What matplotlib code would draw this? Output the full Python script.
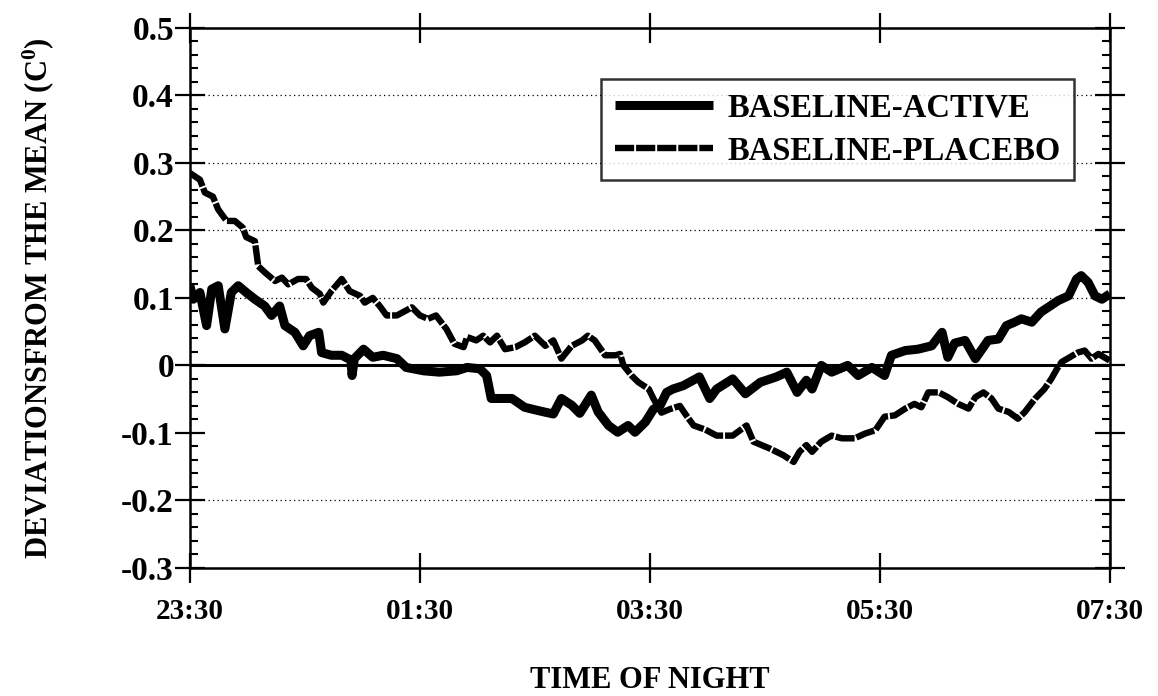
import matplotlib
matplotlib.use("Agg")
import matplotlib.pyplot as plt
from matplotlib.ticker import MultipleLocator, FixedLocator

plt.rcParams['font.family'] = ['Liberation Serif', 'DejaVu Serif']
plt.rcParams['font.weight'] = 'bold'
plt.rcParams['mathtext.fontset'] = 'custom'
plt.rcParams['mathtext.rm'] = 'Liberation Serif:bold'
plt.rcParams['mathtext.it'] = 'Liberation Serif:bold'

# hours elapsed since 23:30
active_t = [0.0, 0.03, 0.087, 0.145, 0.19, 0.246, 0.304, 0.36, 0.42, 0.49, 0.565,
            0.65, 0.71, 0.78, 0.826, 0.913, 0.985, 1.04, 1.12, 1.145, 1.23, 1.32,
            1.40, 1.41, 1.43, 1.51, 1.59, 1.68, 1.8, 1.88, 2.03, 2.17, 2.32, 2.41,
            2.52, 2.58, 2.62, 2.67, 2.8, 2.91, 3.03, 3.16, 3.23, 3.32, 3.39, 3.49,
            3.55, 3.64, 3.72, 3.81, 3.87, 3.96, 4.03, 4.09, 4.145, 4.2, 4.29, 4.43,
            4.52, 4.58, 4.72, 4.83, 4.96, 5.1, 5.19, 5.28, 5.36, 5.41, 5.49, 5.58,
            5.72, 5.81, 5.93, 6.04, 6.1, 6.22, 6.33, 6.45, 6.54, 6.59, 6.65, 6.74,
            6.83, 6.94, 7.03, 7.1, 7.17, 7.23, 7.32, 7.4, 7.48, 7.55, 7.64, 7.71,
            7.75, 7.81, 7.87, 7.93, 8.0]
active_v = [0.118, 0.098, 0.108, 0.059, 0.113, 0.118, 0.054, 0.108, 0.118, 0.108, 0.098,
            0.088, 0.074, 0.088, 0.059, 0.049, 0.029, 0.044, 0.049, 0.019, 0.015, 0.015,
            0.008, -0.015, 0.010, 0.024, 0.012, 0.015, 0.01, -0.003, -0.008, -0.01, -0.008, -0.003,
            -0.005, -0.015, -0.049, -0.049, -0.049, -0.062, -0.067, -0.072, -0.049, -0.059, -0.071, -0.044,
            -0.069, -0.089, -0.099, -0.089, -0.099, -0.084, -0.065, -0.059, -0.04, -0.035, -0.03, -0.017,
            -0.049, -0.035, -0.02, -0.042, -0.025, -0.017, -0.01, -0.04, -0.022, -0.035, 0.0, -0.01,
            0.0, -0.015, -0.003, -0.015, 0.015, 0.022, 0.024, 0.029, 0.049, 0.012, 0.033, 0.037,
            0.01, 0.037, 0.039, 0.059, 0.064, 0.069, 0.064, 0.079, 0.088, 0.096, 0.103, 0.128,
            0.133, 0.123, 0.103, 0.098, 0.106]

placebo_t = [0.0, 0.087, 0.13, 0.2, 0.246, 0.319, 0.39, 0.46, 0.49, 0.565, 0.594, 0.65,
             0.74, 0.8, 0.855, 0.94, 1.01, 1.06, 1.13, 1.16, 1.23, 1.32, 1.39, 1.48, 1.52,
             1.59, 1.65, 1.71, 1.8, 1.93, 2.0, 2.07, 2.14, 2.23, 2.3, 2.38, 2.41, 2.49,
             2.55, 2.61, 2.67, 2.74, 2.83, 2.91, 3.0, 3.09, 3.16, 3.23, 3.32, 3.41, 3.46,
             3.52, 3.61, 3.7, 3.74, 3.77, 3.84, 3.9, 3.99, 4.03, 4.1, 4.17, 4.26, 4.32,
             4.38, 4.48, 4.58, 4.72, 4.84, 4.9, 5.04, 5.16, 5.25, 5.3, 5.36, 5.41, 5.49,
             5.58, 5.67, 5.78, 5.87, 5.96, 6.04, 6.13, 6.22, 6.3, 6.36, 6.42, 6.51, 6.59,
             6.68, 6.77, 6.83, 6.9, 6.97, 7.03, 7.12, 7.2, 7.26, 7.35, 7.43, 7.49, 7.54,
             7.58, 7.65, 7.72, 7.78, 7.84, 7.9, 8.0]
placebo_v = [0.285, 0.275, 0.256, 0.25, 0.231, 0.214, 0.214, 0.204, 0.19, 0.184, 0.147, 0.138,
             0.125, 0.13, 0.12, 0.128, 0.128, 0.115, 0.106, 0.093, 0.11, 0.128, 0.11, 0.103, 0.093,
             0.1, 0.088, 0.074, 0.074, 0.086, 0.074, 0.069, 0.074, 0.054, 0.032, 0.027, 0.042, 0.037,
             0.044, 0.034, 0.044, 0.024, 0.027, 0.034, 0.044, 0.029, 0.037, 0.01, 0.029, 0.037, 0.044,
             0.037, 0.015, 0.015, 0.017, 0.0, -0.015, -0.025, -0.035, -0.049, -0.07, -0.065, -0.06, -0.075,
             -0.089, -0.095, -0.104, -0.104, -0.089, -0.113, -0.123, -0.133, -0.143, -0.128, -0.118, -0.128, -0.113,
             -0.104, -0.108, -0.108, -0.101, -0.096, -0.076, -0.074, -0.064, -0.057, -0.062, -0.04, -0.04, -0.047,
             -0.057, -0.064, -0.047, -0.04, -0.049, -0.064, -0.069, -0.079, -0.069, -0.049, -0.035, -0.02, -0.005,
             0.005, 0.012, 0.019, 0.022, 0.01, 0.017, 0.007]

x_tick_pos = [0, 2, 4, 6, 8]
x_tick_labels = ['23:30', '01:30', '03:30', '05:30', '07:30']
y_ticks = [0.5, 0.4, 0.3, 0.2, 0.1, 0, -0.1, -0.2, -0.3]
y_tick_labels = ['0.5', '0.4', '0.3', '0.2', '0.1', '0', '-0.1', '-0.2', '-0.3']
grid_levels = [0.4, 0.3, 0.2, 0.1, -0.2]

fig = plt.figure(figsize=(11.58, 6.96), dpi=100)
ax = fig.add_axes([0.164, 0.184, 0.7945, 0.776])

for g in grid_levels:
    ax.axhline(g, color='black', lw=0.9, ls=(0, (1.0, 2.6)), zorder=1)
ax.axhline(0, color='black', lw=2.2, zorder=2)

ax.plot(active_t, active_v, color='black', lw=6.5, solid_joinstyle='round',
        solid_capstyle='butt', label='BASELINE-ACTIVE', zorder=3)
ax.plot(placebo_t, placebo_v, color='black', lw=4.6, ls=(0, (3.0, 0.3)),
        dash_capstyle='butt', label='BASELINE-PLACEBO', zorder=3)

ax.set_xlim(0, 8)
ax.set_ylim(-0.3, 0.5)
ax.xaxis.set_major_locator(FixedLocator(x_tick_pos))
ax.set_xticklabels(x_tick_labels)
ax.yaxis.set_major_locator(FixedLocator(y_ticks))
ax.set_yticklabels(y_tick_labels)
ax.yaxis.set_minor_locator(MultipleLocator(0.02))

ax.tick_params(axis='both', which='major', direction='inout', length=21, width=1.6,
               top=True, right=True)
ax.tick_params(axis='x', which='major', labelsize=21, pad=11)
ax.tick_params(axis='y', which='major', labelsize=24, pad=1)
ax.tick_params(axis='y', which='minor', direction='in', length=6, width=1.5,
               left=True, right=True)
for lab in ax.get_xticklabels() + ax.get_yticklabels():
    lab.set_fontweight('bold')

for s in ax.spines.values():
    s.set_linewidth(1.8)

ax.set_xlabel('TIME OF NIGHT', fontsize=22, fontweight='bold', labelpad=30)
ax.set_ylabel('DEVIATIONSFROM THE MEAN (C$^{0}$)', fontsize=22, fontweight='bold',
              labelpad=47)

leg = ax.legend(loc='upper left', bbox_to_anchor=(0.447, 0.906), borderaxespad=0,
                fontsize=23.5, frameon=True, fancybox=False, edgecolor='black',
                handlelength=3.0, handletextpad=0.45, labelspacing=0.38,
                borderpad=0.42)
leg.get_frame().set_linewidth(1.8)
for t in leg.get_texts():
    t.set_fontweight('bold')

fig.savefig('out.png', dpi=100, facecolor='white')
